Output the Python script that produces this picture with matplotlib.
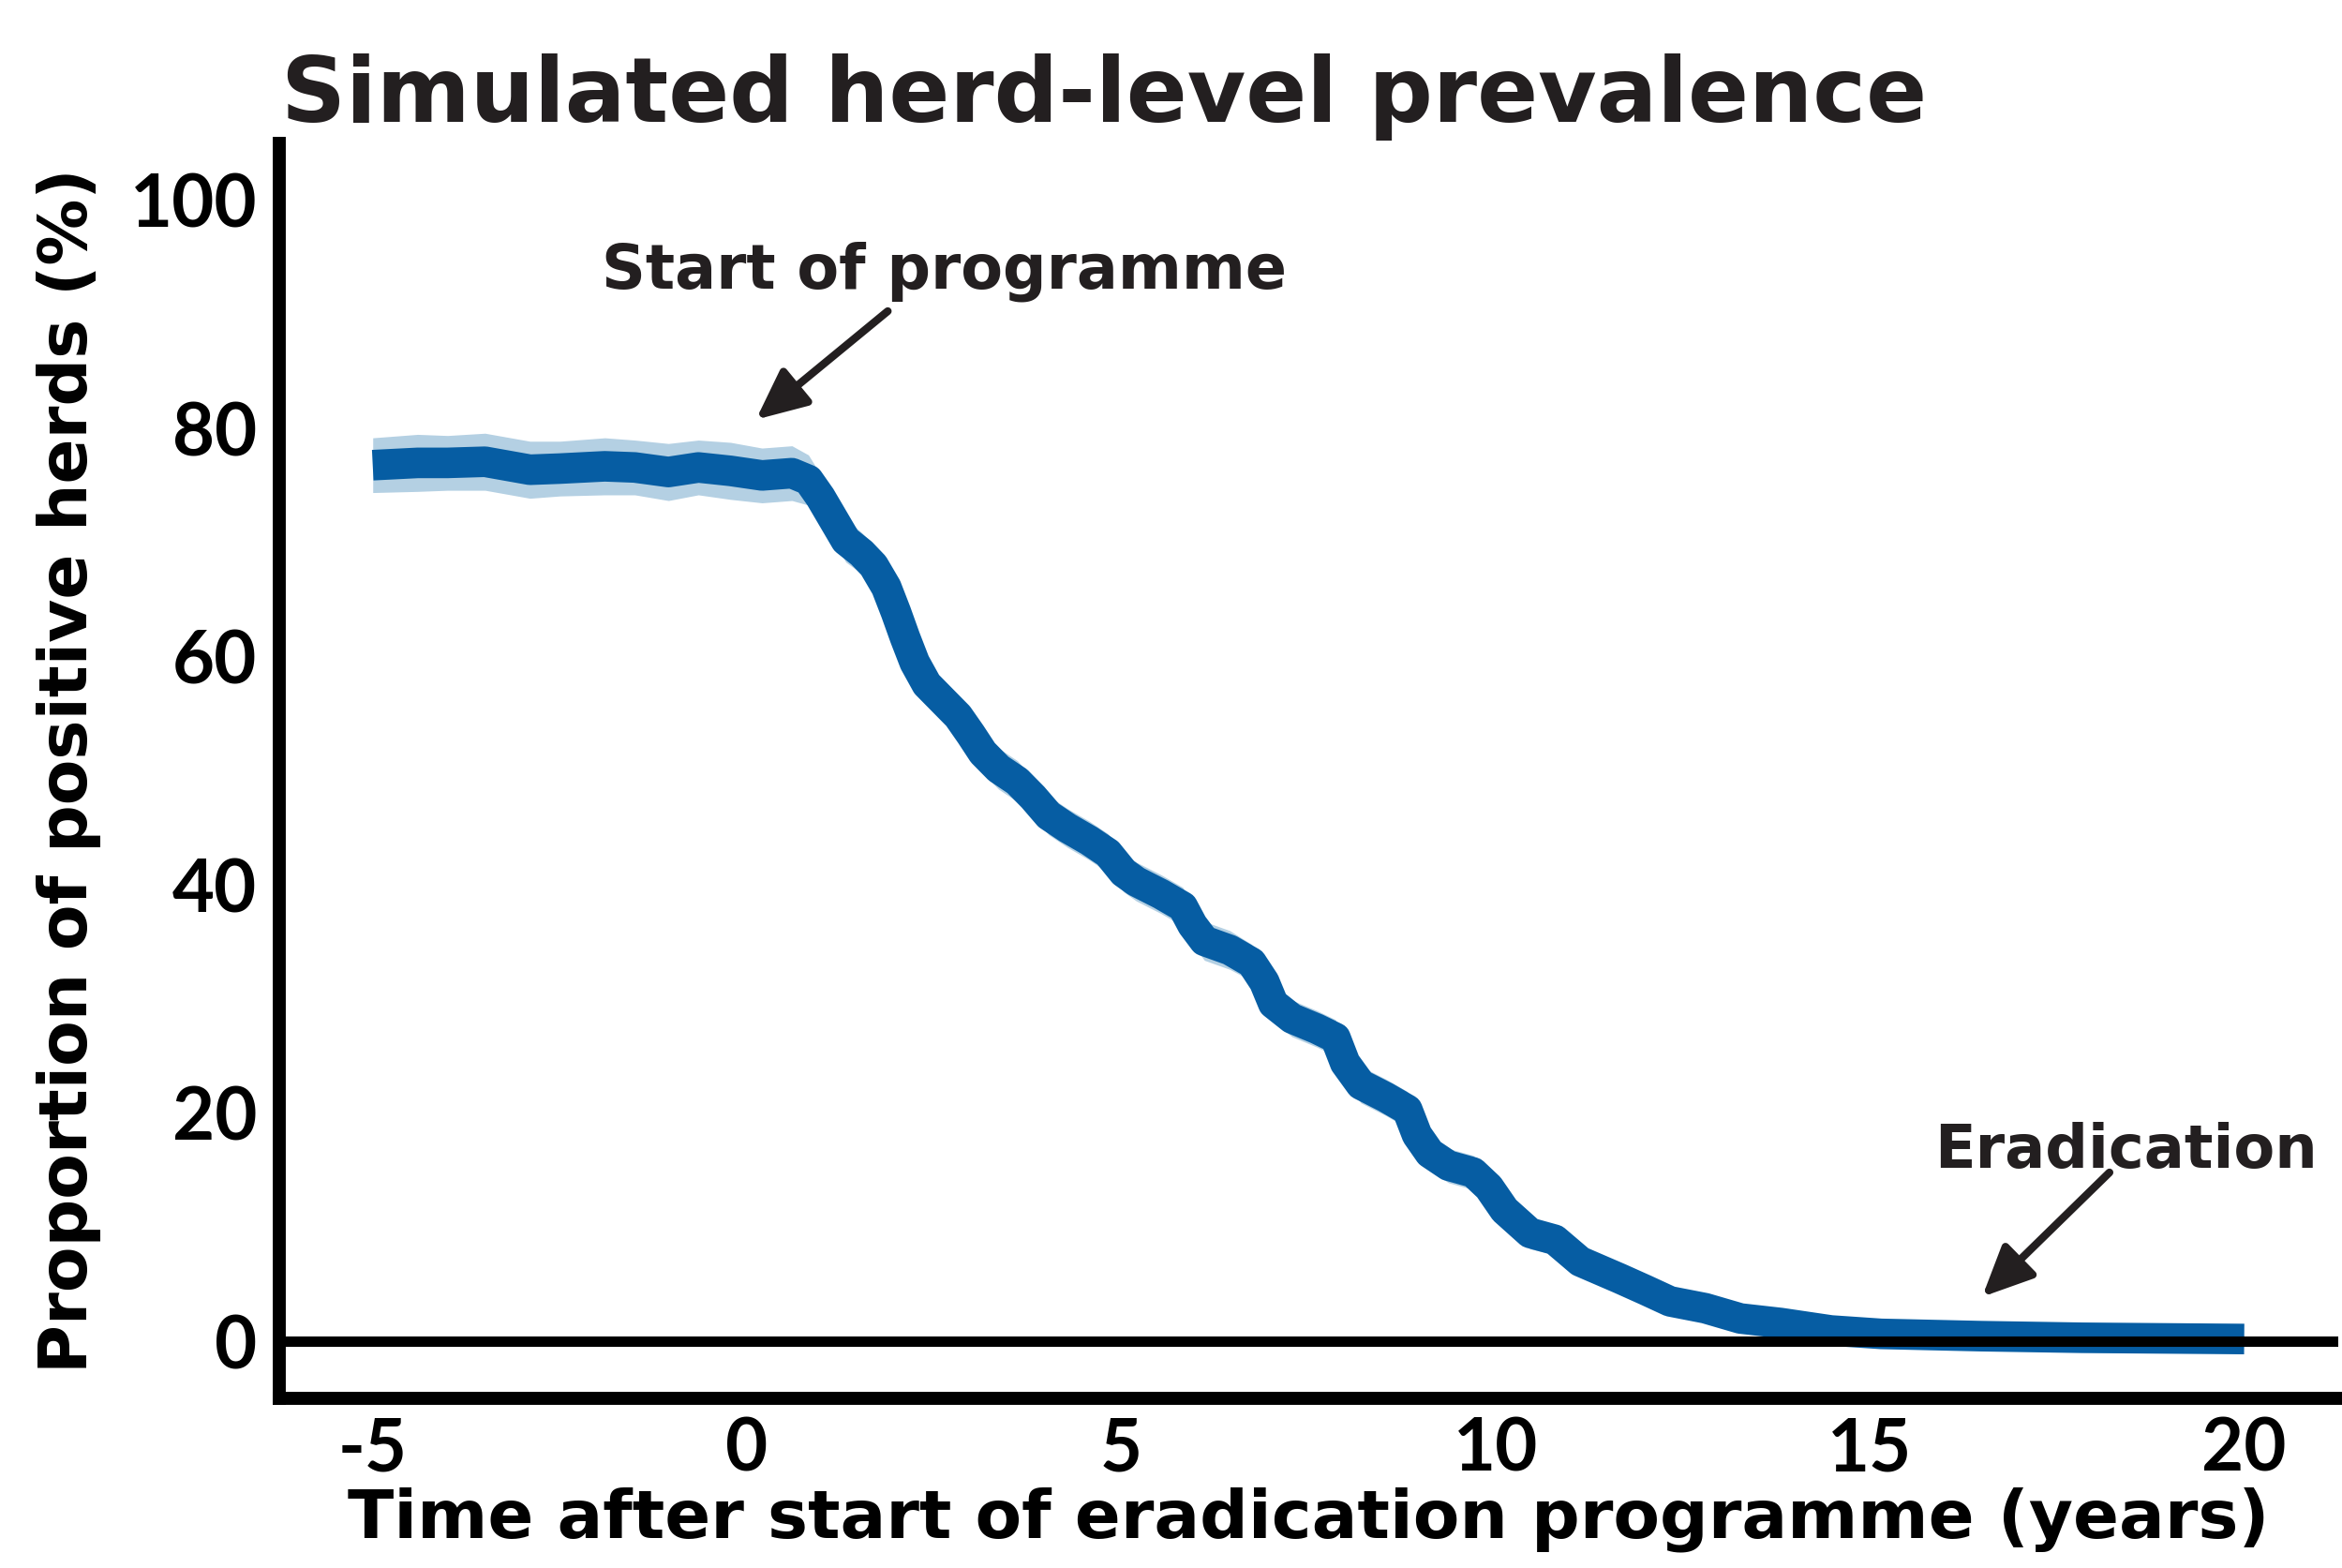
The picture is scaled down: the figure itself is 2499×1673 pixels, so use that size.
import numpy as np
import matplotlib
matplotlib.use("Agg")
import matplotlib.pyplot as plt

# years relative to start of programme
time = [-5.0, -4.4, -4.0, -3.5, -2.9, -2.5, -1.9, -1.5, -1.05, -0.65, -0.22, 0.2, 0.6,
        0.82, 0.98, 1.15, 1.32, 1.53, 1.69, 1.86, 1.99, 2.11, 2.24, 2.40, 2.61, 2.82,
        2.99, 3.15, 3.36, 3.61, 3.82, 4.03, 4.28, 4.57, 4.82, 5.03, 5.20, 5.53, 5.82,
        5.95, 6.11, 6.45, 6.74, 6.91, 7.03, 7.28, 7.61, 7.86, 7.99, 8.20, 8.53, 8.82,
        8.95, 9.12, 9.37, 9.70, 9.91, 10.12, 10.46, 10.79, 11.13, 11.66, 12.0, 12.33,
        12.8, 13.27, 13.81, 14.48, 15.15, 16.49, 17.83, 20.0]

# simulated proportion of positive herds (%)
prevalence = [76.8, 77.0, 77.0, 77.1, 76.4, 76.5, 76.7, 76.6, 76.2, 76.6, 76.3, 75.9, 76.1,
              75.5, 74.0, 72.1, 70.2, 69.1, 68.0, 66.1, 63.9, 61.7, 59.5, 57.6, 56.2, 54.8,
              53.2, 51.6, 50.2, 49.1, 47.7, 46.1, 45.0, 43.9, 42.8, 41.1, 40.3, 39.2, 38.1,
              36.5, 35.1, 34.3, 33.2, 31.5, 29.6, 28.3, 27.4, 26.6, 24.4, 22.5, 21.4, 20.3,
              18.1, 16.5, 15.4, 14.8, 13.5, 11.5, 9.5, 8.9, 7.0, 5.5, 4.5, 3.5,
              2.9, 2.0, 1.6, 0.95, 0.65, 0.45, 0.31, 0.2]

# half width of the uncertainty band (%)
ci_half = [2.4, 2.5, 2.4, 2.5, 2.5, 2.4, 2.5, 2.4, 2.5, 2.4, 2.5, 2.4, 2.4,
           2.2, 2.0, 1.9, 1.9, 1.8, 1.8, 1.8, 1.8, 1.8, 1.8, 1.8, 1.8, 1.8,
           1.8, 1.8, 1.8, 1.8, 1.7, 1.7, 1.7, 1.7, 1.7, 1.7, 1.7, 1.7, 1.7,
           1.7, 1.7, 1.7, 1.6, 1.6, 1.6, 1.6, 1.6, 1.6, 1.6, 1.6, 1.6, 1.6,
           1.5, 1.5, 1.5, 1.5, 1.5, 1.4, 1.4, 1.3, 1.2, 1.1, 1.0, 0.9,
           0.8, 0.7, 0.6, 0.5, 0.4, 0.3, 0.3, 0.3]

xticks = [-5, 0, 5, 10, 15, 20]
xtick_labels = ["-5", "0", "5", "10", "15", "20"]
yticks = [0, 20, 40, 60, 80, 100]

label_font = "DejaVu Sans"
tick_font = "Lato"

t = np.array(time)
p = np.array(prevalence)
w = np.array(ci_half)

fig = plt.figure(figsize=(24.99, 16.73), dpi=100)
ax = fig.add_axes([0.1192, 0.1082, 0.879, 0.8003])

ax.fill_between(t, p - w, p + w, color="#b4d0e3", lw=0, zorder=1)
ax.plot(t, p, color="#065da3", lw=23.5, solid_joinstyle="round",
        solid_capstyle="butt", zorder=2)
ax.axhline(0, color="black", lw=8, zorder=3)

ax.set_xlim(-6.25, 21.25)
ax.set_ylim(-5, 105)
ax.set_xticks(xticks)
ax.set_xticklabels(xtick_labels)
ax.set_yticks(yticks)

for side in ["top", "right"]:
    ax.spines[side].set_visible(False)
for side in ["left", "bottom"]:
    ax.spines[side].set_linewidth(10)
    ax.spines[side].set_color("black")

ax.tick_params(axis="both", direction="in", length=3, width=0.8, color="#666666")
ax.tick_params(axis="y", pad=17)
ax.tick_params(axis="x", pad=14)
for lab in ax.get_xticklabels() + ax.get_yticklabels():
    lab.set_fontfamily(tick_font)
    lab.set_fontweight("bold")
    lab.set_fontsize(56)

ax.set_xlabel("Time after start of eradication programme (years)",
              fontfamily=label_font, fontweight="bold", fontsize=52, labelpad=2)
ax.set_ylabel("Proportion of positive herds (%)",
              fontfamily=label_font, fontweight="bold", fontsize=51, labelpad=22)

fig.text(0.12, 0.922, "Simulated herd-level prevalence", fontfamily=label_font,
         fontweight="bold", fontsize=69, va="baseline", ha="left", color="#231f20")

# annotations
ax.text(2.64, 93.8, "Start of programme", fontfamily=label_font, fontweight="bold",
        fontsize=47, ha="center", va="center", color="#231f20")
ax.annotate("", xy=(0.12, 80.8), xytext=(1.88, 90.3),
            arrowprops=dict(arrowstyle="-|>,head_length=0.65,head_width=0.3",
                            lw=6, color="#231f20", mutation_scale=50,
                            shrinkA=0, shrinkB=0))

ax.text(18.42, 16.7, "Eradication", fontfamily=label_font, fontweight="bold",
        fontsize=46, ha="center", va="center", color="#231f20")
ax.annotate("", xy=(16.5, 3.9), xytext=(18.2, 14.8),
            arrowprops=dict(arrowstyle="-|>,head_length=0.65,head_width=0.3",
                            lw=6, color="#231f20", mutation_scale=50,
                            shrinkA=0, shrinkB=0))

fig.savefig("out.png", dpi=100)
